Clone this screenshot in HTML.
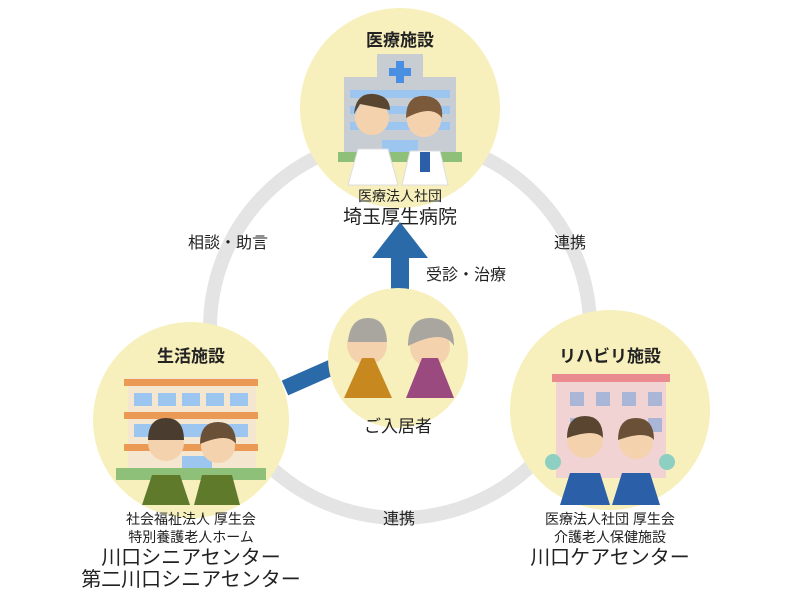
<!DOCTYPE html>
<html><head><meta charset="utf-8"><style>
body{margin:0;background:#fff;}
svg text{font-family:"Liberation Sans","Noto Sans CJK JP",sans-serif;fill:#222;text-anchor:middle;}
</style></head><body>
<svg width="800" height="600" viewBox="0 0 800 600" xmlns="http://www.w3.org/2000/svg">
<circle cx="400" cy="328" r="190" fill="none" stroke="#e4e4e4" stroke-width="14"/>
<line x1="285" y1="388" x2="335" y2="366" stroke="#2a6aa8" stroke-width="16"/>
<rect x="391" y="255" width="18" height="40" fill="#2a6aa8"/>
<polygon points="372,258 428,258 400,222" fill="#2a6aa8"/>
<circle cx="400" cy="108" r="100" fill="#f7f0bd"/>
<rect x="377" y="54" width="46" height="30" fill="#c8cdd3"/>
<rect x="344" y="77" width="112" height="80" fill="#c8cdd3"/>
<rect x="396" y="61" width="8" height="22" fill="#4a90e2"/><rect x="389" y="68" width="22" height="8" fill="#4a90e2"/>
<g fill="#9cc6f0"><rect x="350" y="90" width="100" height="8"/><rect x="350" y="106" width="100" height="8"/><rect x="350" y="122" width="100" height="8"/><rect x="382" y="140" width="36" height="17"/></g>
<rect x="338" y="152" width="124" height="10" fill="#8fc07a"/>
<circle cx="372" cy="118" r="17" fill="#f5d2ae"/><path d="M354,114 q2,-22 20,-20 q16,2 16,16 l-30,-6z" fill="#5a4630"/>
<path d="M348,185 l10,-36 h30 l10,36z" fill="#fff" stroke="#ddd"/>
<circle cx="424" cy="120" r="17" fill="#f5d2ae"/><path d="M406,118 q0,-24 20,-22 q18,2 16,22 q-10,-14 -36,0z" fill="#7a5a3a"/>
<path d="M402,185 l8,-34 h30 l8,34z" fill="#fff" stroke="#ddd"/><rect x="420" y="152" width="10" height="20" fill="#2b5fa8"/>
<text x="400" y="46" font-size="17" font-weight="bold">医療施設</text>
<text x="400" y="201" font-size="14">医療法人社団</text>
<text x="400" y="223" font-size="19">埼玉厚生病院</text>
<circle cx="191" cy="420" r="98" fill="#f7f0bd"/>
<rect x="128" y="378" width="128" height="90" fill="#f4e6cf"/>
<g fill="#eb9a55"><rect x="124" y="379" width="134" height="7"/><rect x="124" y="412" width="134" height="7"/><rect x="124" y="444" width="134" height="7"/></g>
<g fill="#9cc6f0"><rect x="134" y="393" width="18" height="13"/><rect x="158" y="393" width="18" height="13"/><rect x="182" y="393" width="18" height="13"/><rect x="206" y="393" width="18" height="13"/><rect x="230" y="393" width="18" height="13"/><rect x="134" y="424" width="114" height="13"/><rect x="182" y="456" width="30" height="24"/></g>
<rect x="116" y="468" width="150" height="12" fill="#8fc07a"/>
<circle cx="166" cy="443" r="18" fill="#f5d2ae"/><path d="M148,440 q0,-22 18,-22 q18,0 18,22z" fill="#4a3d30"/>
<path d="M142,505 l10,-30 h28 l10,30z" fill="#5f7a2a"/>
<circle cx="218" cy="446" r="17" fill="#f5d2ae"/><path d="M200,444 q0,-22 18,-22 q18,0 18,22 q-8,-12 -36,0z" fill="#6b5038"/>
<path d="M194,505 l8,-30 h30 l8,30z" fill="#5f7a2a"/>
<text x="191" y="362" font-size="17" font-weight="bold">生活施設</text>
<text x="191" y="524" font-size="14">社会福祉法人 厚生会</text>
<text x="191" y="542" font-size="14">特別養護老人ホーム</text>
<text x="191" y="564" font-size="20">川口シニアセンター</text>
<text x="191" y="586" font-size="20">第二川口シニアセンター</text>
<circle cx="398" cy="358" r="70" fill="#f7f0bd"/>
<circle cx="367" cy="345" r="20" fill="#f5d2ae"/><path d="M348,342 q2,-24 20,-24 q18,0 19,24z" fill="#a9a6a0"/>
<path d="M344,398 l18,-40 h12 l18,40z" fill="#c7891f"/>
<circle cx="430" cy="347" r="20" fill="#f5d2ae"/><path d="M408,346 q0,-28 22,-28 q24,0 24,28 q-10,-18 -46,0z" fill="#a9a6a0"/>
<path d="M406,398 l16,-40 h16 l16,40z" fill="#9b4a80"/>
<text x="398" y="432" font-size="17">ご入居者</text>
<circle cx="610" cy="410" r="100" fill="#f7f0bd"/>
<rect x="556" y="378" width="110" height="100" fill="#f2d3d3"/>
<rect x="552" y="374" width="118" height="8" fill="#ea8b90"/>
<g fill="#a9b6d8"><rect x="570" y="392" width="14" height="14"/><rect x="596" y="392" width="14" height="14"/><rect x="622" y="392" width="14" height="14"/><rect x="648" y="392" width="14" height="14"/><rect x="570" y="418" width="14" height="14"/><rect x="648" y="418" width="14" height="14"/></g>
<circle cx="553" cy="462" r="8" fill="#8dcfc0"/><circle cx="667" cy="462" r="8" fill="#8dcfc0"/>
<circle cx="585" cy="440" r="18" fill="#f5d2ae"/><path d="M567,438 q0,-22 18,-22 q18,0 18,22 q-8,-10 -36,0z" fill="#5a4630"/>
<path d="M560,505 l10,-32 h30 l10,32z" fill="#2b5fa8"/>
<circle cx="636" cy="442" r="17" fill="#f5d2ae"/><path d="M618,440 q0,-22 18,-22 q18,0 18,22 q-8,-10 -36,0z" fill="#6b5038"/>
<path d="M612,505 l10,-32 h28 l10,32z" fill="#2b5fa8"/>
<text x="610" y="362" font-size="17" font-weight="bold">リハビリ施設</text>
<text x="610" y="524" font-size="14">医療法人社団 厚生会</text>
<text x="610" y="542" font-size="14">介護老人保健施設</text>
<text x="610" y="564" font-size="20">川口ケアセンター</text>
<text x="228" y="248" font-size="16">相談・助言</text>
<text x="570" y="248" font-size="16">連携</text>
<text x="466" y="280" font-size="16">受診・治療</text>
<text x="399" y="524" font-size="16">連携</text>
</svg>
</body></html>
